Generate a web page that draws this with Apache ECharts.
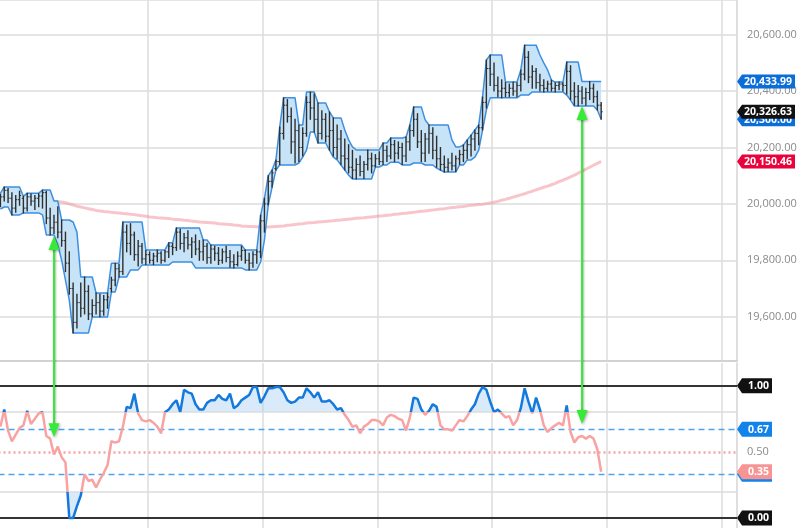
<!DOCTYPE html>
<html><head><meta charset="utf-8">
<script src="https://cdn.jsdelivr.net/npm/echarts@6/dist/echarts.min.js"></script>
<style>html,body{margin:0;padding:0;background:#fff}#c{width:798px;height:528px}</style>
</head><body><div id="c"></div><script>
// [open, high, low, close] per bar
const ohlc = [
[20000,20035,19990,20025],[20025,20060,20010,20048],[20048,20055,20005,20020],[20020,20040,19961,19985],[19985,20030,19970,20015],
[20015,20045,19995,20030],[20020,20027,19968,19985],[19985,20038,19975,20025],[20025,20035,19995,20010],[20010,20030,19980,20020],
[20020,20036,19990,20028],[20028,20049,19985,20040],[20040,20045,19930,19950],[19950,19985,19890,19915],[19915,19960,19895,19935],
[19935,19990,19880,19900],[19900,19943,19850,19870],[19870,19900,19760,19790],[19790,19830,19680,19700],[19700,19720,19542,19580],
[19580,19680,19560,19650],[19650,19720,19600,19630],[19630,19741,19610,19690],[19690,19710,19590,19610],[19610,19660,19600,19640],
[19640,19684,19610,19650],[19650,19680,19600,19620],[19620,19675,19605,19660],[19660,19684,19630,19670],[19700,19740,19688,19730],
[19730,19790,19710,19770],[19770,19785,19741,19760],[19760,19936,19750,19900],[19900,19925,19830,19860],[19860,19930,19820,19890],
[19890,19900,19800,19820],[19820,19870,19780,19850],[19850,19860,19790,19805],[19805,19835,19785,19820],[19820,19830,19790,19800],
[19800,19825,19785,19815],[19815,19837,19795,19825],[19825,19830,19790,19800],[19800,19835,19795,19830],[19830,19862,19810,19850],
[19850,19860,19820,19845],[19845,19915,19835,19900],[19900,19910,19840,19860],[19860,19895,19830,19880],[19880,19905,19840,19855],
[19855,19880,19810,19865],[19865,19890,19820,19840],[19840,19870,19800,19830],[19830,19872,19800,19850],[19850,19860,19790,19810],
[19810,19854,19790,19840],[19840,19850,19800,19825],[19825,19845,19785,19800],[19800,19840,19790,19830],[19830,19850,19795,19810],
[19810,19835,19775,19795],[19795,19820,19773,19785],[19785,19830,19780,19815],[19815,19850,19800,19835],[19835,19837,19790,19800],
[19800,19825,19766,19790],[19790,19830,19775,19820],[19820,19837,19790,19830],[19830,19960,19810,19940],[19940,20020,19900,20000],
[20000,20100,19996,20080],[20080,20120,20060,20110],[20125,20156,20120,20150],[20150,20273,20140,20250],[20250,20376,20230,20350],
[20350,20370,20290,20310],[20310,20340,20180,20220],[20220,20300,20145,20260],[20260,20280,20150,20200],[20200,20270,20170,20250],
[20250,20380,20240,20360],[20360,20397,20300,20340],[20340,20390,20255,20300],[20300,20358,20216,20250],[20250,20330,20230,20300],
[20300,20320,20220,20240],[20240,20326,20191,20260],[20260,20305,20170,20200],[20200,20280,20160,20230],[20230,20260,20140,20170],
[20170,20230,20120,20160],[20160,20210,20110,20130],[20130,20190,20090,20120],[20120,20160,20088,20140],[20140,20170,20100,20115],
[20115,20150,20090,20140],[20140,20191,20120,20160],[20160,20180,20110,20135],[20135,20175,20131,20160],[20160,20185,20140,20150],
[20150,20216,20140,20190],[20190,20205,20150,20170],[20170,20234,20160,20210],[20210,20225,20150,20180],[20180,20220,20160,20200],
[20200,20215,20140,20170],[20170,20237,20150,20220],[20220,20280,20190,20260],[20260,20344,20240,20300],[20300,20320,20200,20220],
[20220,20260,20150,20180],[20180,20250,20150,20230],[20230,20280,20180,20250],[20250,20270,20160,20190],[20190,20240,20130,20160],
[20160,20200,20120,20140],[20140,20170,20113,20130],[20130,20160,20115,20145],[20145,20180,20120,20135],[20135,20170,20115,20160],
[20160,20190,20140,20175],[20175,20209,20150,20190],[20190,20227,20160,20210],[20210,20244,20170,20230],[20230,20262,20190,20250],
[20250,20280,20210,20270],[20270,20379,20262,20360],[20360,20510,20340,20480],[20480,20528,20420,20460],[20460,20500,20400,20420],
[20420,20450,20380,20400],[20400,20440,20376,20410],[20410,20430,20380,20395],[20395,20425,20380,20410],[20410,20432,20385,20400],
[20400,20430,20380,20420],[20420,20475,20400,20460],[20460,20563,20440,20520],[20520,20540,20430,20450],[20450,20490,20410,20470],
[20470,20480,20410,20430],[20430,20460,20400,20420],[20420,20440,20397,20410],[20410,20435,20400,20425],[20425,20439,20400,20410],
[20410,20430,20397,20420],[20420,20432,20405,20425],[20425,20430,20400,20420],[20420,20503,20390,20470],[20470,20490,20370,20400],
[20400,20430,20350,20380],[20380,20420,20347,20400],[20400,20415,20355,20375],[20375,20410,20350,20395],[20395,20434,20370,20410],
[20410,20425,20360,20380],[20380,20400,20333,20350],[20350,20360,20300,20326.63]
];
const bandUpper = [
20038,20060,20060,20060,20060,20060,20027,20038,20038,20038,
20038,20049,20049,20049,20010,20010,19943,19943,19943,19936,
19900,19741,19741,19741,19741,19684,19684,19684,19684,19790,
19790,19790,19936,19936,19936,19936,19936,19936,19837,19837,
19837,19837,19837,19837,19862,19862,19915,19915,19915,19915,
19915,19915,19915,19872,19872,19854,19854,19854,19854,19854,
19854,19854,19854,19854,19837,19837,19837,19837,19960,20020,
20100,20120,20156,20273,20376,20376,20376,20376,20280,20280,
20397,20397,20397,20358,20358,20358,20326,20305,20305,20305,
20262,20227,20202,20191,20191,20191,20191,20191,20191,20191,
20216,20216,20234,20234,20234,20234,20237,20280,20344,20344,
20344,20298,20280,20280,20280,20280,20280,20280,20227,20202,
20202,20209,20227,20244,20262,20280,20379,20510,20528,20528,
20528,20528,20432,20432,20432,20432,20475,20563,20563,20563,
20563,20528,20500,20475,20439,20432,20432,20432,20503,20503,
20503,20503,20434,20434,20434,20434,20434,20433.99
];
const bandLower = [
19982,19989,19989,19961,19961,19961,19968,19968,19968,19968,
19968,19961,19890,19890,19890,19854,19801,19730,19659,19542,
19542,19542,19542,19542,19599,19599,19599,19599,19599,19688,
19688,19741,19741,19741,19766,19766,19766,19783,19783,19783,
19783,19783,19783,19783,19783,19794,19794,19794,19794,19794,
19794,19773,19773,19773,19773,19773,19773,19773,19773,19773,
19773,19773,19773,19773,19766,19766,19766,19766,19794,19872,
19996,20060,20120,20138,20138,20138,20138,20138,20145,20166,
20191,20255,20255,20216,20216,20216,20191,20166,20156,20138,
20120,20102,20088,20088,20088,20088,20088,20088,20131,20131,
20138,20138,20148,20148,20148,20138,20138,20138,20145,20145,
20145,20138,20138,20138,20127,20120,20113,20113,20113,20113,
20138,20138,20156,20156,20166,20191,20262,20333,20376,20376,
20376,20376,20376,20376,20376,20376,20386,20386,20386,20397,
20397,20397,20397,20397,20397,20397,20397,20397,20386,20368,
20347,20347,20347,20347,20347,20347,20333,20300
];
const ma = [
20017,20017,20016,20016,20016,20015,20015,20014,20014,
20013,20013,20012,20011,20010,20009,20008,20007,
20004,20000,19996,19992,19989,
19986,19983,19980,19977,19975,
19973,19972,19970,19969,19968,19966,19965,19963,19962,19960,19958,19956,19954,
19953,19951,19950,19949,19948,19946,19945,19944,19942,19941,19939,19938,19936,
19935,19934,19933,19932,19930,19929,19928,19927,19925,19924,19922,
19921,19920,19920,19919,19919,19918,19918,
19919,19920,19921,19922,19924,19925,19927,19929,
19930,19932,19933,19934,19936,19937,19938,19939,19940,19942,19943,19945,19946,
19947,19949,19950,19951,19953,19954,19955,19957,19958,19960,19961,19963,19964,
19966,19967,19969,19970,19972,19974,19975,19977,19978,19980,19982,19983,19985,
19987,19988,19990,19991,19993,19995,19996,19998,19999,20001,20003,
20006,20009,20013,20016,20020,20024,20028,
20032,20036,20041,20045,20050,20054,20059,20063,
20068,20073,20079,20084,20090,20096,20102,
20109,20116,20123,20130,20137,20144,20150.46
];
const osc = [
0.69,0.82,0.66,0.58,0.63,0.68,0.70,0.81,0.71,0.75,
0.79,0.80,0.62,0.60,0.48,0.54,0.46,0.42,0.00,0.00,
0.09,0.17,0.33,0.28,0.29,0.23,0.29,0.34,0.40,0.58,
0.57,0.58,0.69,0.84,0.83,0.94,0.79,0.74,0.73,0.74,
0.72,0.69,0.64,0.80,0.82,0.86,0.89,0.80,0.97,0.95,
0.94,0.86,0.82,0.82,0.87,0.89,0.89,0.93,0.90,0.89,
0.94,0.83,0.85,0.89,0.91,0.93,0.99,0.99,0.87,0.92,
0.98,0.98,0.99,0.99,0.95,0.89,0.87,0.88,0.91,0.91,
0.98,0.95,0.91,0.95,0.88,0.88,0.89,0.86,0.82,0.83,
0.78,0.74,0.69,0.70,0.64,0.69,0.71,0.74,0.74,0.73,
0.70,0.76,0.78,0.77,0.75,0.74,0.66,0.76,0.91,0.90,
0.82,0.78,0.81,0.86,0.84,0.70,0.67,0.67,0.66,0.70,
0.74,0.73,0.77,0.82,0.86,0.94,0.99,0.97,0.88,0.80,
0.82,0.79,0.76,0.77,0.70,0.74,0.83,0.98,0.88,0.79,
0.91,0.82,0.70,0.65,0.68,0.70,0.72,0.70,0.85,0.65,
0.57,0.61,0.62,0.60,0.62,0.60,0.52,0.35
];
const oscUpperLevel = 0.67;
const oscLowerLevel = 0.33;
const oscMidLevel = 0.5;
const oscBounds = [1, 0];
const oscZones = [0.8, 0.2];
const arrowBars = [14, 152];
const arrowPrice = [19886, 20347];
const arrowOsc = [0.61, 0.71];
const TOTAL_SLOTS = 193;
const categories = Array.from({length: TOTAL_SLOTS}, (_, i) => String(i));

const FONT = '"Open Sans", "Noto Sans", sans-serif';
const LAST = ohlc.length - 1;
const fmt2 = v => Number(v).toLocaleString('en-US', {minimumFractionDigits: 2, maximumFractionDigits: 2});
const BLUE = '#1479dc', PINK = '#f8a2a2', FILL = 'rgba(170,208,245,0.45)', CLEAR = 'rgba(255,255,255,0)';
const GRIDC = '#dcdcdc';
const xSplit = {show: true, interval: (idx) => idx >= 39 && idx % 30 === 9, lineStyle: {color: GRIDC, width: 1.5}};

const topTags = [
  {value: [LAST, bandLower[LAST]], color: '#0b6ed8'},
  {value: [LAST, bandUpper[LAST]], color: '#0b6ed8'},
  {value: [LAST, ma[LAST]], color: '#e9023b'},
  {value: [LAST, ohlc[LAST][3]], color: '#111111'}
];
const botTags = [
  {value: [LAST, oscLowerLevel], color: '#1283ea'},
  {value: [LAST, osc[LAST]], color: '#f79494'},
  {value: [LAST, oscUpperLevel], color: '#1283ea'},
  {value: [LAST, oscBounds[0]], color: '#111111'},
  {value: [LAST, oscBounds[1]], color: '#111111'}
];
function tagRenderer(tags, w, h) {
  return function (params, api) {
    const cs = params.coordSys;
    const t = tags[params.dataIndex];
    const y = api.coord([api.value(0), api.value(1)])[1];
    const x0 = cs.x + cs.width;
    const hh = h / 2;
    return {type: 'group', children: [
      {type: 'polygon', shape: {points: [[x0, y], [x0 + 5, y - hh], [x0 + w, y - hh], [x0 + w, y + hh], [x0 + 5, y + hh]]}, style: {fill: t.color}},
      {type: 'text', style: {text: fmt2(api.value(1)), x: x0 + w - 3, y: y + 0.5, align: 'right', verticalAlign: 'middle', fill: '#fff', font: 'bold 10.5px ' + FONT}}
    ]};
  };
}
function bandRender(params, api) {
  const pts = [];
  for (let i = 0; i < bandUpper.length; i++) pts.push(api.coord([i, bandUpper[i]]));
  for (let i = bandLower.length - 1; i >= 0; i--) pts.push(api.coord([i, bandLower[i]]));
  return {type: 'polygon', shape: {points: pts}, style: {fill: '#c6e3f7'}};
}
function barRender(params, api) {
  const i = api.value(0);
  const pH = api.coord([i, api.value(2)]);
  const pL = api.coord([i, api.value(3)]);
  const yO = api.coord([i, api.value(1)])[1];
  const yC = api.coord([i, api.value(4)])[1];
  const x = pH[0];
  const st = {stroke: '#2f2f2f', lineWidth: 1.4};
  return {type: 'group', children: [
    {type: 'line', shape: {x1: x, y1: pH[1] - 0.5, x2: x, y2: pL[1] + 0.5}, style: st},
    {type: 'line', shape: {x1: x - 1.6, y1: yO, x2: x, y2: yO}, style: {stroke: '#2f2f2f', lineWidth: 1}},
    {type: 'line', shape: {x1: x, y1: yC, x2: x + 1.6, y2: yC}, style: {stroke: '#2f2f2f', lineWidth: 1}}
  ]};
}

const chart = echarts.init(document.getElementById('c'));
const option = {
  animation: false,
  backgroundColor: '#ffffff',
  textStyle: {fontFamily: FONT},
  grid: [
    {left: -1.5, right: 61, top: 0, height: 361, containLabel: false, outerBoundsMode: 'none'},
    {left: -1.5, right: 61, top: 363, height: 165, containLabel: false, outerBoundsMode: 'none'}
  ],
  xAxis: [
    {type: 'category', gridIndex: 0, data: categories, boundaryGap: true, axisLabel: {show: false}, axisTick: {show: false},
     axisLine: {show: true, lineStyle: {color: '#d2d2d2', width: 2}}, splitLine: xSplit},
    {type: 'category', gridIndex: 1, data: categories, boundaryGap: true, axisLabel: {show: false}, axisTick: {show: false},
     axisLine: {show: false}, splitLine: xSplit}
  ],
  yAxis: [
    {type: 'value', gridIndex: 0, position: 'right', min: 19443, max: 20723, splitNumber: 6,
     axisLine: {show: true, lineStyle: {color: GRIDC, width: 1.5}}, axisTick: {show: false},
     splitLine: {show: true, lineStyle: {color: GRIDC, width: 1.5}},
     axisLabel: {margin: 10, color: '#8a8a8a', fontSize: 11, fontFamily: FONT, formatter: v => Math.abs(v % 200) < 1e-6 ? fmt2(v) : ''}},
    {type: 'value', gridIndex: 1, position: 'right', min: -0.0756, max: 1.1716,
     axisLine: {show: true, lineStyle: {color: GRIDC, width: 1.5}}, axisTick: {show: false},
     splitLine: {show: false}, axisLabel: {show: false}}
  ],
  visualMap: [
    {type: 'piecewise', show: false, seriesIndex: 8, dimension: 1,
     pieces: [{lt: oscZones[1], color: BLUE}, {gte: oscZones[1], lte: oscZones[0], color: PINK}, {gt: oscZones[0], color: BLUE}]},
    {type: 'piecewise', show: false, seriesIndex: 6, dimension: 1,
     pieces: [{lt: oscZones[1], color: CLEAR}, {gte: oscZones[1], lte: oscZones[0], color: CLEAR}, {gt: oscZones[0], color: FILL}]},
    {type: 'piecewise', show: false, seriesIndex: 7, dimension: 1,
     pieces: [{lt: oscZones[1], color: FILL}, {gte: oscZones[1], lte: oscZones[0], color: CLEAR}, {gt: oscZones[0], color: CLEAR}]}
  ],
  series: [
    {type: 'line', xAxisIndex: 0, yAxisIndex: 0, data: ma, symbol: 'none', silent: true, z: 1,
     lineStyle: {color: 'rgba(243,150,160,0.55)', width: 3}},
    {type: 'custom', xAxisIndex: 0, yAxisIndex: 0, data: [[0, bandUpper[0]]], renderItem: bandRender, silent: true, z: 2},
    {type: 'line', xAxisIndex: 0, yAxisIndex: 0, data: bandUpper, symbol: 'none', silent: true, z: 3,
     lineStyle: {color: '#3d8fe0', width: 1.5}},
    {type: 'line', xAxisIndex: 0, yAxisIndex: 0, data: bandLower, symbol: 'none', silent: true, z: 3,
     lineStyle: {color: '#3d8fe0', width: 1.5}},
    {type: 'custom', xAxisIndex: 0, yAxisIndex: 0, data: ohlc.map((d, i) => [i, d[0], d[1], d[2], d[3]]),
     encode: {x: 0, y: [1, 2, 3, 4]}, renderItem: barRender, silent: true, z: 4},
    {type: 'custom', xAxisIndex: 0, yAxisIndex: 0, data: topTags.map(t => t.value), renderItem: tagRenderer(topTags, 58, 14),
     clip: false, silent: true, z: 20},
    {type: 'line', xAxisIndex: 1, yAxisIndex: 1, data: osc, symbol: 'none', silent: true, z: 2,
     lineStyle: {width: 0}, areaStyle: {origin: 'start', opacity: 1},
     markLine: {silent: true, symbol: 'none', animation: false, label: {show: false},
       data: [
         {yAxis: oscZones[0], lineStyle: {color: GRIDC, width: 1.5, type: 'solid'}},
         {yAxis: oscZones[1], lineStyle: {color: GRIDC, width: 1.5, type: 'solid'}},
         {yAxis: oscBounds[0], lineStyle: {color: '#333', width: 2, type: 'solid'}},
         {yAxis: oscBounds[1], lineStyle: {color: '#333', width: 2, type: 'solid'}},
         {yAxis: oscUpperLevel, lineStyle: {color: '#4ea3f1', width: 1.3, type: [6, 4]}},
         {yAxis: oscLowerLevel, lineStyle: {color: '#4ea3f1', width: 1.3, type: [6, 4]}},
         {yAxis: oscMidLevel, lineStyle: {color: '#f4a4a4', width: 2.5, type: [2, 3]},
          label: {show: true, position: 'end', formatter: () => fmt2(oscMidLevel), color: '#8a8a8a', fontSize: 11, fontFamily: FONT, distance: 10}}
       ]}},
    {type: 'line', xAxisIndex: 1, yAxisIndex: 1, data: osc, symbol: 'none', silent: true, z: 2,
     lineStyle: {width: 0}, areaStyle: {origin: 'end', opacity: 1}},
    {type: 'line', xAxisIndex: 1, yAxisIndex: 1, data: osc, symbol: 'none', silent: true, z: 5,
     lineStyle: {width: 2.5}},
    {type: 'custom', xAxisIndex: 1, yAxisIndex: 1, data: botTags.map(t => t.value), renderItem: tagRenderer(botTags, 35, 15),
     clip: false, silent: true, z: 20}
  ]
};
chart.setOption(option);

const graphics = [];
arrowBars.forEach((b, k) => {
  const pt = chart.convertToPixel({gridIndex: 0}, [b, arrowPrice[k]]);
  const pb = chart.convertToPixel({gridIndex: 1}, [b, arrowOsc[k]]);
  const x = pt[0];
  const st = {fill: '#35ec35', shadowBlur: 3, shadowColor: 'rgba(0,0,0,0.35)', shadowOffsetX: 1, shadowOffsetY: 1};
  graphics.push({type: 'line', silent: true, z: 100, shape: {x1: x, y1: pt[1] + 12, x2: x, y2: pb[1] - 12},
    style: {stroke: '#35ec35', lineWidth: 2, shadowBlur: 2, shadowColor: 'rgba(0,0,0,0.3)', shadowOffsetX: 1}});
  graphics.push({type: 'polygon', silent: true, z: 100, shape: {points: [[x, pt[1]], [x - 5.5, pt[1] + 14], [x + 5.5, pt[1] + 14]]}, style: st});
  graphics.push({type: 'polygon', silent: true, z: 100, shape: {points: [[x, pb[1]], [x - 5.5, pb[1] - 14], [x + 5.5, pb[1] - 14]]}, style: st});
});
chart.setOption({graphic: graphics});
</script></body></html>
